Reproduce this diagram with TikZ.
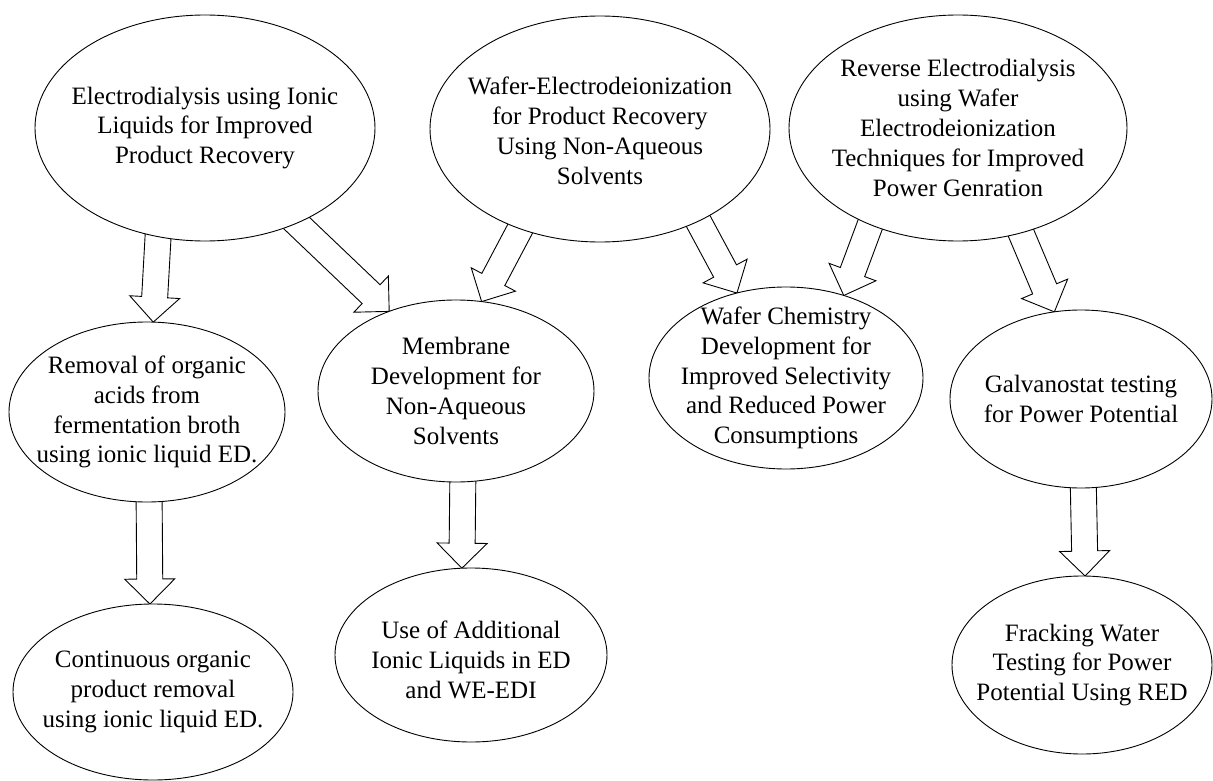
\documentclass[tikz,border=0pt]{standalone}
\usepackage{fontspec}
\setmainfont{Liberation Serif}
\usetikzlibrary{calc,shapes.geometric,backgrounds}
\newcommand\blockarr[2]{%
  \coordinate (ba) at ($(#2)!25pt!(#1)$);
  \draw[arrowbody] ($(#1)!13pt!90:(#2)$) -- ($(ba)!13pt!90:(#2)$) -- ($(ba)!25pt!90:(#2)$) -- (#2)
     -- ($(ba)!25pt!-90:(#2)$) -- ($(ba)!13pt!-90:(#2)$) -- ($(#1)!13pt!-90:(#2)$) -- cycle;}
\begin{document}
\begin{tikzpicture}[x=1pt,y=-1pt,
  bub/.style={ellipse, draw=black, line width=0.9pt, fill=white, inner sep=0pt, outer sep=0pt},
  big/.style={minimum width=340pt, minimum height=226pt},
  lbl/.style={align=center, font=\fontsize{25}{29.8}\selectfont, inner sep=0pt, text=black},
  arrowbody/.style={draw=black, line width=0.9pt, fill=white, line join=miter}]
\useasboundingbox (0,0) rectangle (1213,781);
% ellipses
\node[bub, big] (e1) at (205,128) {};
\node[bub, big] (e2) at (600,129) {};
\node[bub, minimum width=338pt, minimum height=226pt] (e3) at (958,128) {};
\node[bub, minimum width=276pt, minimum height=180pt] (e4) at (147,412) {};
\node[bub, minimum width=276pt, minimum height=182pt] (e5) at (456,391) {};
\node[bub, minimum width=274pt, minimum height=182pt] (e6) at (786,378) {};
\node[bub, minimum width=262pt, minimum height=178pt] (e7) at (1081,399) {};
\node[bub, minimum width=280pt, minimum height=176pt] (e8) at (153,692) {};
\node[bub, minimum width=272pt, minimum height=174pt] (e9) at (471,655) {};
\node[bub, minimum width=260pt, minimum height=178pt] (e10) at (1082,665) {};
% texts
\node[lbl] (t1) at (e1.center) {Electrodialysis using Ionic\\Liquids for Improved\\Product Recovery};
\node[lbl] (t2) at ($(e2.center)+(0,2)$) {Wafer-Electrodeionization\\for Product Recovery\\Using Non-Aqueous\\Solvents};
\node[lbl] (t3) at (e3.center) {Reverse Electrodialysis\\using Wafer\\Electrodeionization\\Techniques for Improved\\Power Genration};
\node[lbl] (t4) at (e4.center) {Removal of organic\\acids from\\fermentation broth\\using ionic liquid ED.};
\node[lbl] (t5) at (e5.center) {Membrane\\Development for\\Non-Aqueous\\Solvents};
\node[lbl] (t6) at (e6.center) {Wafer Chemistry\\Development for\\Improved Selectivity\\and Reduced Power\\Consumptions};
\node[lbl] (t7) at (e7.center) {Galvanostat testing\\for Power Potential};
\node[lbl] (t8) at (e8.center) {Continuous organic\\product removal\\using ionic liquid ED.};
\node[lbl] (t9) at ($(e9.center)+(0,5)$) {Use of Additional\\Ionic Liquids in ED\\and WE-EDI};
\node[lbl] (t10) at (e10.center) {Fracking Water\\Testing for Power\\Potential Using RED};
% block arrows (behind the ellipses)
\begin{pgfonlayer}{background}
\fill[white] (0,0) rectangle (1213,781);
\coordinate (s1) at (159,220);
\coordinate (s2) at (285,212);
\coordinate (s3) at (529,212);
\coordinate (s4) at (149,485);
\coordinate (s5) at (463,465);
\coordinate (s6) at (689,204);
\coordinate (s7) at (876,209);
\coordinate (s8) at (1013,214);
\coordinate (s9) at (1083,470);
\blockarr{s1}{e4.86}
\blockarr{s2}{e5.130}
\blockarr{s3}{e5.74}
\blockarr{s4}{e8.92}
\blockarr{s5}{e9.96}
\blockarr{s6}{e6.120}
\blockarr{s7}{e6.55}
\blockarr{s8}{e7.107}
\blockarr{s9}{e10.88}
\end{pgfonlayer}
\end{tikzpicture}
\end{document}
